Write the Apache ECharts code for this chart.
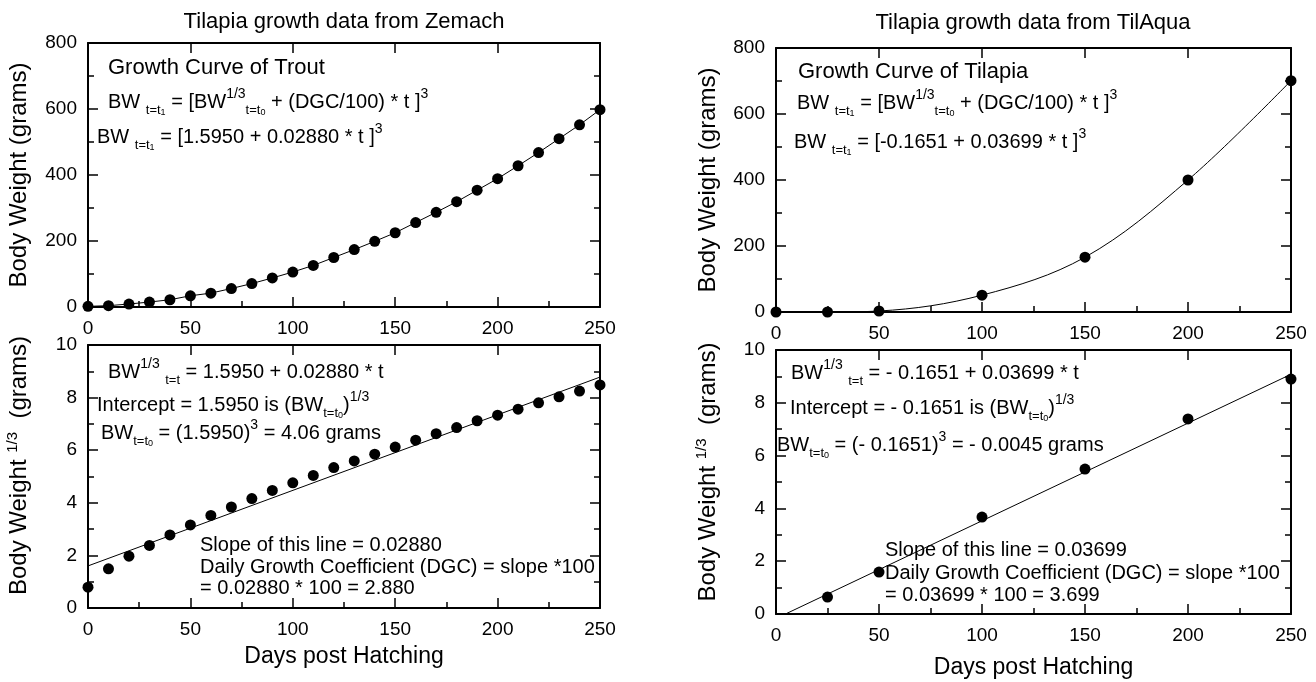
<!DOCTYPE html>
<html>
<head>
<meta charset="utf-8">
<script src="https://cdn.jsdelivr.net/npm/echarts@6/dist/echarts.min.js"></script>
<style>
  html, body { margin: 0; padding: 0; background: #fff; }
  #chart { width: 1316px; height: 682px; }
</style>
</head>
<body>
<div id="chart"></div>
<script>
// Zemach data (left column)
var daysZ = [0, 10, 20, 30, 40, 50, 60, 70, 80, 90, 100, 110, 120, 130, 140, 150, 160, 170, 180, 190, 200, 210, 220, 230, 240, 250];
var bwZ = [2, 4, 9, 15, 22, 34, 42, 56, 71, 88, 106, 126, 150, 174, 199, 225, 256, 287, 319, 354, 389, 428, 468, 510, 552, 598];
var cbrtZ = [0.79, 1.49, 1.97, 2.38, 2.78, 3.16, 3.52, 3.84, 4.16, 4.47, 4.76, 5.04, 5.34, 5.59, 5.85, 6.12, 6.38, 6.63, 6.86, 7.12, 7.33, 7.56, 7.80, 8.03, 8.25, 8.48];
var fitDaysZ = [0, 250];
var fitZ = [1.6, 8.78];

// TilAqua data (right column)
var daysT = [0, 25, 50, 100, 150, 200, 250];
var bwT = [0, 0, 3, 51, 166, 400, 701];
var cbrtDaysT = [25, 50, 100, 150, 200, 250];
var cbrtT = [0.64, 1.59, 3.67, 5.49, 7.39, 8.9];
var fitDaysT = [0, 250];
var fitT = [-0.17, 9.08];

var FONT = 'Arial, "Liberation Sans", Helvetica, sans-serif';

function pairs(xs, ys) {
    return xs.map(function (x, i) { return [x, ys[i]]; });
}

var tickLine = {color: '#000', width: 1.5};

function bottomX(grid, name, gap) {
    return {
        type: 'value', gridIndex: grid, position: 'bottom',
        min: 0, max: 250, interval: 50,
        axisLine: {onZero: false, lineStyle: {color: '#000', width: 2}},
        axisTick: {inside: true, length: 10, lineStyle: tickLine},
        minorTick: {show: true, splitNumber: 2, length: 6, lineStyle: tickLine},
        splitLine: {show: false},
        axisLabel: {margin: 12, fontSize: 19, color: '#000', fontFamily: FONT},
        name: name || '', nameLocation: 'middle', nameGap: gap || 0,
        nameTextStyle: {fontSize: 23, color: '#000', fontFamily: FONT}
    };
}

function topX(grid) {
    return {
        type: 'value', gridIndex: grid, position: 'top',
        min: 0, max: 250, interval: 50,
        axisLine: {onZero: false, lineStyle: {color: '#000', width: 2}},
        axisTick: {inside: true, length: 10, lineStyle: tickLine},
        minorTick: {show: false},
        splitLine: {show: false},
        axisLabel: {show: false}
    };
}

function leftY(grid, max, interval, name, gap, shift) {
    return {
        type: 'value', gridIndex: grid, position: 'left',
        min: 0, max: max, interval: interval,
        axisLine: {onZero: false, lineStyle: {color: '#000', width: 2}},
        axisTick: {inside: true, length: 10, lineStyle: tickLine},
        minorTick: {show: true, splitNumber: 2, length: 6, lineStyle: tickLine},
        splitLine: {show: false},
        axisLabel: {margin: 11, fontSize: 19, color: '#000', fontFamily: FONT},
        name: name, nameLocation: 'middle', nameGap: gap,
        nameTextStyle: {
            fontSize: 24, color: '#000', fontFamily: FONT, lineHeight: 28,
            padding: [0, 0, 0, shift],
            rich: {
                s: {fontSize: 15, fontFamily: FONT, color: '#000', verticalAlign: 'top', lineHeight: 16}
            }
        }
    };
}

function rightY(grid, max, interval) {
    return {
        type: 'value', gridIndex: grid, position: 'right',
        min: 0, max: max, interval: interval,
        axisLine: {onZero: false, lineStyle: {color: '#000', width: 2}},
        axisTick: {inside: true, length: 10, lineStyle: tickLine},
        minorTick: {show: true, splitNumber: 2, length: 6, lineStyle: tickLine},
        splitLine: {show: false},
        axisLabel: {show: false}
    };
}

var rich = {
    sub: {fontSize: 13, lineHeight: 12, verticalAlign: 'bottom', fontFamily: FONT, fill: '#000'},
    ss: {fontSize: 9, lineHeight: 6, verticalAlign: 'bottom', fontFamily: FONT, fill: '#000'},
    sup: {fontSize: 14, lineHeight: 18, verticalAlign: 'top', fontFamily: FONT, fill: '#000'}
};

function txt(x, y, text, size, align, lh) {
    return {
        type: 'text', x: x, y: y, silent: true,
        style: {
            text: text, fontSize: size, fontFamily: FONT, fill: '#000',
            align: align || 'left', verticalAlign: 'middle',
            lineHeight: lh || 30, rich: rich
        }
    };
}

var dot = {color: '#000', opacity: 1};

var myChart = echarts.init(document.getElementById('chart'));
myChart.setOption({
    animation: false,
    grid: [
        {left: 88, top: 43, width: 512, height: 264},
        {left: 88, top: 345, width: 512, height: 263},
        {left: 776, top: 48, width: 515, height: 264},
        {left: 776, top: 350, width: 515, height: 264}
    ],
    xAxis: [
        bottomX(0), topX(0),
        bottomX(1, 'Days post Hatching', 37), topX(1),
        bottomX(2), topX(2),
        bottomX(3, 'Days post Hatching', 42), topX(3)
    ],
    yAxis: [
        leftY(0, 800, 200, 'Body Weight (grams)', 55, 0), rightY(0, 800, 200),
        leftY(1, 10, 2, 'Body Weight {s|1/3}  (grams)', 55, 22), rightY(1, 10, 2),
        leftY(2, 800, 200, 'Body Weight (grams)', 54, 0), rightY(2, 800, 200),
        leftY(3, 10, 2, 'Body Weight {s|1/3}  (grams)', 54, 20), rightY(3, 10, 2)
    ],
    series: [
        {
            type: 'line', xAxisIndex: 0, yAxisIndex: 0,
            data: pairs(daysZ, bwZ),
            symbol: 'circle', symbolSize: 11,
            lineStyle: {color: '#000', width: 1},
            itemStyle: dot
        },
        {
            type: 'scatter', xAxisIndex: 2, yAxisIndex: 2,
            data: pairs(daysZ, cbrtZ),
            symbol: 'circle', symbolSize: 11,
            itemStyle: dot
        },
        {
            type: 'line', xAxisIndex: 2, yAxisIndex: 2,
            data: pairs(fitDaysZ, fitZ),
            symbol: 'none', clip: true,
            lineStyle: {color: '#000', width: 1}
        },
        {
            type: 'line', xAxisIndex: 4, yAxisIndex: 4,
            data: pairs(daysT, bwT),
            smooth: 0.35,
            symbol: 'circle', symbolSize: 11,
            lineStyle: {color: '#000', width: 1},
            itemStyle: dot
        },
        {
            type: 'scatter', xAxisIndex: 6, yAxisIndex: 6,
            data: pairs(cbrtDaysT, cbrtT),
            symbol: 'circle', symbolSize: 11,
            itemStyle: dot
        },
        {
            type: 'line', xAxisIndex: 6, yAxisIndex: 6,
            data: pairs(fitDaysT, fitT),
            symbol: 'none', clip: true,
            lineStyle: {color: '#000', width: 1}
        }
    ],
    graphic: [
        // titles
        txt(344, 22, 'Tilapia growth data from Zemach', 22, 'center'),
        txt(1033, 23, 'Tilapia growth data from TilAqua', 22, 'center'),

        // top left
        txt(108, 68, 'Growth Curve of Trout', 22),
        txt(108, 102, 'BW {sub|t=t}{ss|1} = [BW{sup|1/3}{sub|t=t}{ss|0} + (DGC/100) * t ]{sup|3}', 20),
        txt(97, 137, 'BW {sub|t=t}{ss|1} = [1.5950 + 0.02880 * t ]{sup|3}', 20),

        // bottom left
        txt(108, 372, 'BW{sup|1/3} {sub|t=t} = 1.5950 + 0.02880 * t', 20),
        txt(97, 405, 'Intercept = 1.5950 is (BW{sub|t=t}{ss|0}){sup|1/3}', 20),
        txt(101, 433, 'BW{sub|t=t}{ss|0} = (1.5950){sup|3} = 4.06 grams', 20),
        txt(200, 567, 'Slope of this line = 0.02880\nDaily Growth Coefficient (DGC) = slope *100\n= 0.02880 * 100 = 2.880', 20, 'left', 21.5),

        // top right
        txt(798, 72, 'Growth Curve of Tilapia', 22),
        txt(797, 103, 'BW {sub|t=t}{ss|1} = [BW{sup|1/3}{sub|t=t}{ss|0} + (DGC/100) * t ]{sup|3}', 20),
        txt(794, 142, 'BW {sub|t=t}{ss|1} = [-0.1651 + 0.03699 * t ]{sup|3}', 20),

        // bottom right
        txt(791, 373, 'BW{sup|1/3} {sub|t=t} = - 0.1651 + 0.03699 * t', 20),
        txt(790, 408, 'Intercept = - 0.1651 is (BW{sub|t=t}{ss|0}){sup|1/3}', 20),
        txt(777, 445, 'BW{sub|t=t}{ss|0} = (- 0.1651){sup|3} = - 0.0045 grams', 20),
        txt(885, 573, 'Slope of this line = 0.03699\nDaily Growth Coefficient (DGC) = slope *100\n= 0.03699 * 100 = 3.699', 20, 'left', 22.5)
    ]
});
</script>
</body>
</html>
